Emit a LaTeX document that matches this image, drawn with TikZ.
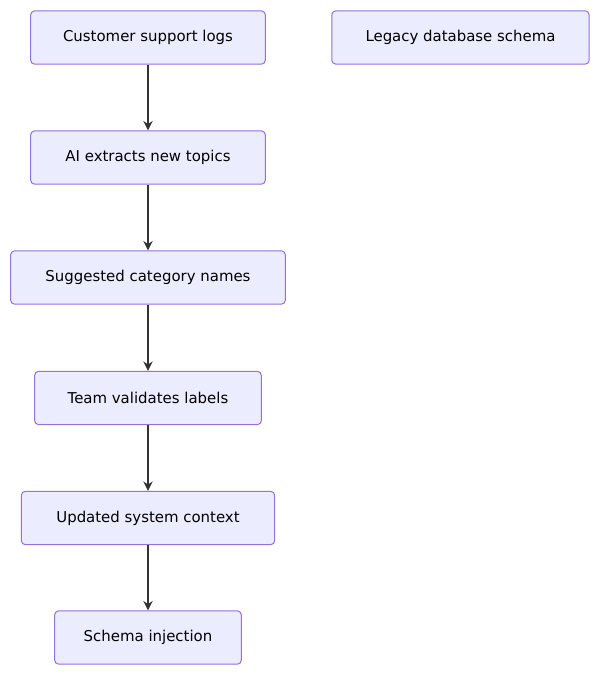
\documentclass[tikz,border=0pt]{standalone}
\usepackage{fontspec}
\setmainfont{DejaVu Sans}
\usetikzlibrary{positioning,arrows.meta}
\definecolor{boxfill}{HTML}{ECECFF}
\definecolor{boxline}{HTML}{9370DB}
\definecolor{arrowcol}{HTML}{333333}
\begin{document}
\begin{tikzpicture}[
    x=0.75pt,
    y=-0.75pt,
    box/.style={
        rectangle,
        draw=boxline,
        fill=boxfill,
        line width=0.75pt,
        rounded corners=3pt,
        minimum height=40pt,
        inner xsep=0pt,
        text centered,
        font=\fontsize{11.2}{13}\selectfont
    },
    line/.style={draw=arrowcol, line width=1pt, -{Stealth[length=7pt,width=7pt]}}
]
    \useasboundingbox (0,0) rectangle (600,676);
    % Left column
    \node[box, minimum width=176pt] (logs) at (148,37.5) {Customer support logs};
    \node[box, minimum width=176pt] (extract) at (148,157.5) {AI extracts new topics};
    \node[box, minimum width=206pt] (names) at (148,277.5) {Suggested category names};
    \node[box, minimum width=170pt] (validate) at (148,398) {Team validates labels};
    \node[box, minimum width=190pt] (context) at (148,518) {Updated system context};
    \node[box, minimum width=140pt] (inject) at (148,637.5) {Schema injection};

    % Right column
    \node[box, minimum width=193pt] (legacy) at (460.5,37.5) {Legacy database schema};

    % Connections
    \draw[line] (logs) -- (extract);
    \draw[line] (extract) -- (names);
    \draw[line] (names) -- (validate);
    \draw[line] (validate) -- (context);
    \draw[line] (context) -- (inject);
\end{tikzpicture}
\end{document}
